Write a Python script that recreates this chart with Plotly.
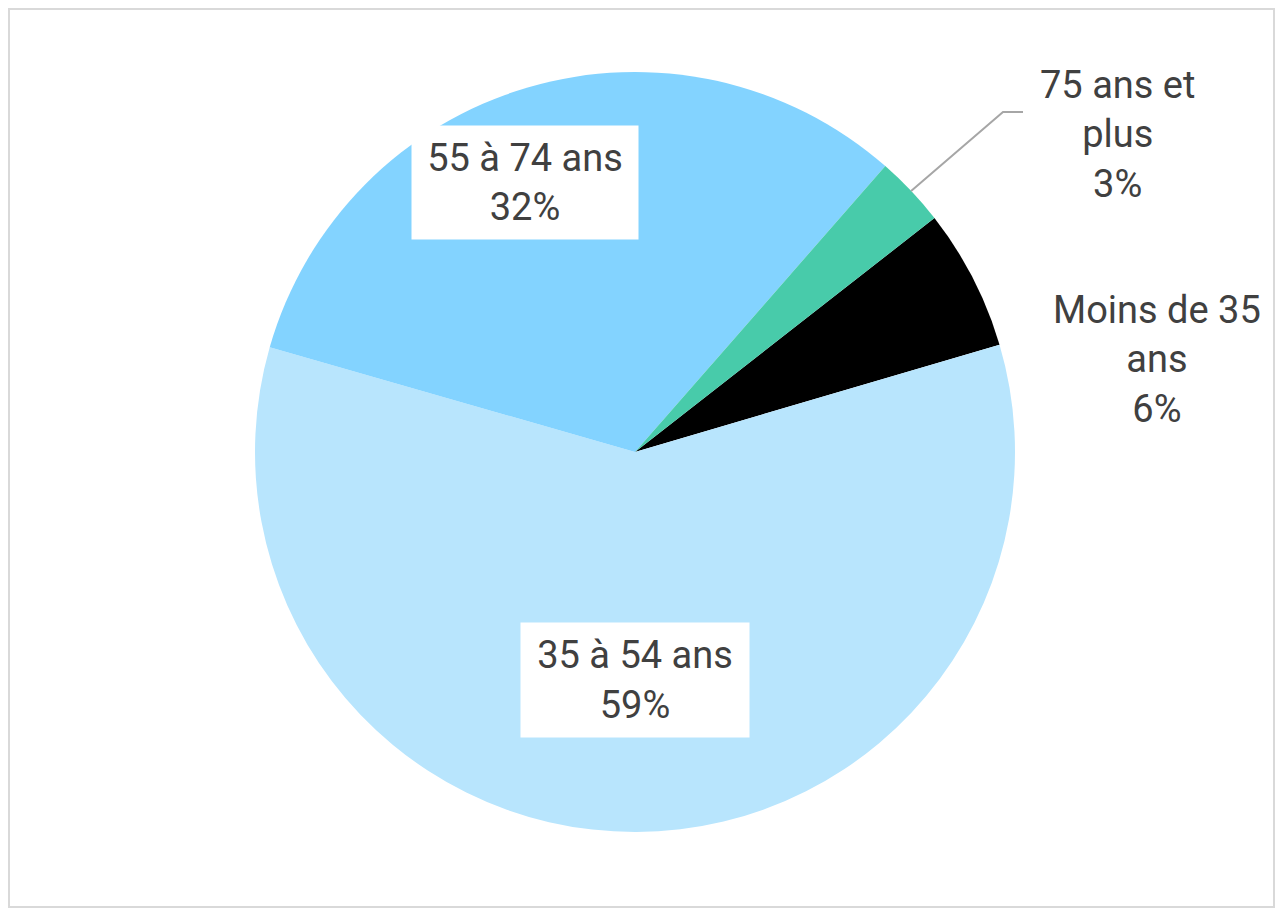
import math
import plotly.graph_objects as go

# data
labels = ["Moins de 35 ans", "35 à 54 ans", "55 à 74 ans", "75 ans et plus"]
label_text = ["Moins de 35<br>ans", "35 à 54 ans", "55 à 74 ans", "75 ans et<br>plus"]
values = [6, 59, 32, 3]
colors = ["#000000", "#B8E5FD", "#83D3FF", "#48CBAA"]

# the page body adds an 8px margin, so the figure is shrunk to fit the window
OFF = 8
W, H = 1283 - 2 * OFF, 916 - 2 * OFF
ML, MR, MT, MB = 0, 13, 64, 76
PW, PH = W - ML - MR, H - MT - MB
ROTATION = 52

# label placement (page pixel centres), boxed or not
label_pos = {
    "Moins de 35 ans": (1157, 360, False),
    "35 à 54 ans": (635, 680, True),
    "55 à 74 ans": (525, 183, True),
    "75 ans et plus": (1117, 134, False),
}
box_size = {"35 à 54 ans": (228, 114), "55 à 74 ans": (226, 113)}


def px(x):
    return (x - OFF - ML) / PW


def py(y):
    return (H - MB - (y - OFF)) / PH


fig = go.Figure(go.Pie(
    labels=labels,
    values=values,
    sort=False,
    direction="clockwise",
    rotation=ROTATION,
    marker=dict(colors=colors, line=dict(width=0)),
    textinfo="none",
    hoverinfo="label+percent",
    showlegend=False,
))

total = sum(values)
annotations = []
for lab, txt, v in zip(labels, label_text, values):
    x, y, boxed = label_pos[lab]
    pct = round(100 * v / total)
    a = dict(
        x=px(x), y=py(y), xref="paper", yref="paper",
        text=f"{txt}<br>{pct}%", showarrow=False,
        font=dict(family="Roboto", size=38, color="#404040"),
        xanchor="center", yanchor="middle", align="center",
    )
    if boxed:
        bw, bh = box_size[lab]
        a.update(bgcolor="#FFFFFF", width=bw, height=bh, borderpad=0)
    annotations.append(a)

# leader line for the small slice, starting at the edge of its mid angle
cx, cy, r = ML + PW / 2 + OFF, MT + PH / 2 + OFF, PH / 2
start = ROTATION - 360 * values[-1] / total
mid = math.radians(start + 180 * values[-1] / total)
sx, sy = cx + r * math.sin(mid), cy - r * math.cos(mid)

shapes = [
    dict(type="rect", xref="paper", yref="paper",
         x0=px(OFF + 1), x1=px(OFF + W - 1), y0=py(OFF + H - 1), y1=py(OFF + 1),
         line=dict(color="#D9D9D9", width=2)),
    dict(type="path", xref="paper", yref="paper",
         path=f"M {px(sx)} {py(sy)} L {px(1003)} {py(112)} L {px(1023)} {py(112)}",
         line=dict(color="#A6A6A6", width=2)),
]

fig.update_layout(
    width=W, height=H,
    margin=dict(l=ML, r=MR, t=MT, b=MB),
    paper_bgcolor="#FFFFFF",
    plot_bgcolor="#FFFFFF",
    annotations=annotations,
    shapes=shapes,
)

fig.write_html("out.html")
